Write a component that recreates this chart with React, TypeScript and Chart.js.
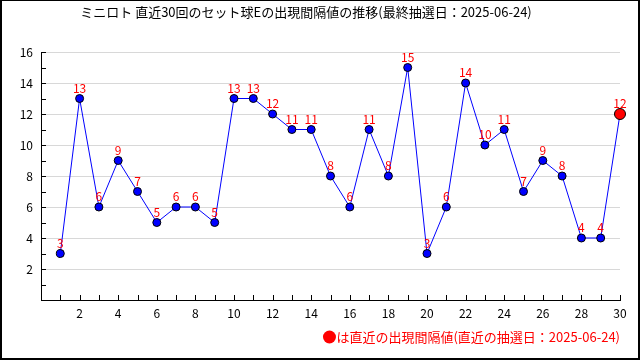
import React, { useEffect, useRef } from 'react';
import { Chart, registerables } from 'chart.js';

Chart.register(...registerables);

const draws: number[] = [1, 2, 3, 4, 5, 6, 7, 8, 9, 10, 11, 12, 13, 14, 15, 16, 17, 18, 19, 20, 21, 22, 23, 24, 25, 26, 27, 28, 29, 30];
const intervals: number[] = [3, 13, 6, 9, 7, 5, 6, 6, 5, 13, 13, 12, 11, 11, 8, 6, 11, 8, 15, 3, 6, 14, 10, 11, 7, 9, 8, 4, 4, 12];
const TITLE = 'ミニロト 直近30回のセット球Eの出現間隔値の推移(最終抽選日：2025-06-24)';
const NOTE = 'は直近の出現間隔値(直近の抽選日：2025-06-24)';
const X_MIN = 0;
const X_MAX = 30;
const Y_MIN = 0;
const Y_MAX = 16;

const FONT = '"Noto Sans CJK JP", "DejaVu Sans", sans-serif';

const decorPlugin = {
  id: 'decor',
  beforeDatasetsDraw(chart: any) {
    const { ctx, chartArea, scales } = chart;
    const xs = scales.x;
    const ys = scales.y;
    ctx.save();
    ctx.strokeStyle = '#000';
    ctx.lineWidth = 1;
    ctx.beginPath();
    for (let v = Y_MIN + 1; v <= Y_MAX; v++) {
      const py = Math.round(ys.getPixelForValue(v)) + 0.5;
      ctx.moveTo(chartArea.left, py);
      ctx.lineTo(chartArea.left + 5, py);
    }
    for (let v = X_MIN + 1; v <= X_MAX; v++) {
      const px = Math.round(xs.getPixelForValue(v)) + 0.5;
      ctx.moveTo(px, chartArea.bottom);
      ctx.lineTo(px, chartArea.bottom - 5);
    }
    ctx.stroke();
    ctx.restore();
  },
  afterDatasetsDraw(chart: any) {
    const { ctx } = chart;
    const meta = chart.getDatasetMeta(0);
    ctx.save();
    ctx.fillStyle = '#ff0000';
    ctx.font = `12px ${FONT}`;
    ctx.textAlign = 'center';
    ctx.textBaseline = 'alphabetic';
    meta.data.forEach((el: any, i: number) => {
      ctx.fillText(String(intervals[i]), el.x, el.y - 6);
    });
    ctx.restore();
  },
  afterDraw(chart: any) {
    const { ctx, width, height } = chart;
    ctx.save();
    ctx.fillStyle = '#000';
    ctx.fillRect(0, 0, width, 1);
    ctx.fillRect(0, 0, 2, height);
    ctx.fillRect(width - 2, 0, 2, height);
    ctx.fillRect(0, height - 2, width, 2);
    ctx.font = `13px ${FONT}`;
    ctx.textAlign = 'center';
    ctx.textBaseline = 'middle';
    ctx.fillStyle = '#000';
    ctx.fillText(TITLE, 306, 12);
    ctx.font = `13px ${FONT}`;
    ctx.textAlign = 'right';
    ctx.fillStyle = '#ff0000';
    const tw = ctx.measureText(NOTE).width;
    const scale = Math.min(1.04, 1);
    ctx.fillText(NOTE, 620, 337);
    ctx.beginPath();
    ctx.arc(620 - tw * scale - 7, 337, 6.5, 0, Math.PI * 2);
    ctx.fill();
    ctx.restore();
  },
};

export default function App() {
  const ref = useRef<HTMLCanvasElement | null>(null);
  useEffect(() => {
    if (!ref.current) return;
    const last = intervals.length - 1;
    const chart = new Chart(ref.current, {
      type: 'line',
      data: {
        datasets: [
          {
            data: draws.map((x, i) => ({ x, y: intervals[i] })),
            borderColor: '#0000ff',
            borderWidth: 1,
            pointBackgroundColor: intervals.map((_, i) => (i === last ? '#ff0000' : '#0000ff')),
            pointBorderColor: '#000',
            pointBorderWidth: 1,
            pointRadius: intervals.map((_, i) => (i === last ? 5.5 : 4)),
            tension: 0,
            fill: false,
            clip: false,
          },
        ],
      },
      options: {
        responsive: false,
        animation: false,
        layout: { padding: { top: 52, right: 20, left: 0, bottom: 0 } },
        plugins: { legend: { display: false }, tooltip: { enabled: false }, title: { display: false } },
        scales: {
          x: {
            type: 'linear',
            min: X_MIN,
            max: X_MAX,
            afterFit: (s: any) => { s.height = 60; },
            ticks: {
              stepSize: 1,
              autoSkip: false,
              maxRotation: 0,
              padding: 6,
              color: '#000',
              font: { family: FONT, size: 12 },
              callback: (v: any) => (v > 0 && v % 2 === 0 ? String(v) : ''),
            },
            grid: { drawOnChartArea: false, drawTicks: false },
            border: { color: '#000', width: 1 },
          },
          y: {
            min: Y_MIN,
            max: Y_MAX,
            afterFit: (s: any) => { s.width = 41; },
            ticks: {
              stepSize: 1,
              autoSkip: false,
              padding: 8,
              color: '#000',
              font: { family: FONT, size: 12 },
              callback: (v: any) => (v > 0 && v % 2 === 0 ? String(v) : ''),
            },
            grid: {
              drawTicks: false,
              color: (c: any) => (c.tick && c.tick.value > 0 && c.tick.value % 2 === 0 ? '#d8d8d8' : 'rgba(0,0,0,0)'),
            },
            border: { color: '#000', width: 1 },
          },
        },
      },
      plugins: [decorPlugin],
    });
    return () => chart.destroy();
  }, []);
  return (
    <div style={{ position: 'absolute', left: 0, top: 0, width: 640, height: 360, background: '#fff' }}>
      <canvas ref={ref} width={640} height={360} style={{ display: 'block' }} />
    </div>
  );
}
